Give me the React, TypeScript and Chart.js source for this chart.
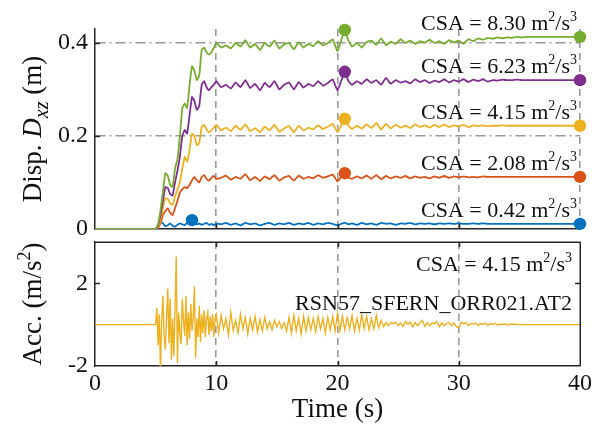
import React, { useEffect, useRef } from "react";
import { Chart, registerables } from "chart.js";
Chart.register(...registerables);

// ---------- DATA ----------
const TIME_D = [0, 5, 5.2, 5.4, 5.6, 5.8, 6, 6.2, 6.4, 6.6, 6.8, 7, 7.2, 7.4, 7.6, 7.8, 8, 8.2, 8.4, 8.6, 8.8, 9, 9.2, 9.4, 9.6, 9.8, 10,
  10.4, 10.8, 11.2, 11.6, 12, 12.4, 12.8, 13.2, 13.6, 14, 14.4, 14.8, 15.2, 15.6, 16, 16.4, 16.8, 17.2, 17.6, 18, 18.4, 18.8, 19.2, 19.6, 20,
  20.3, 20.6, 20.9,
  21.2, 21.6, 22, 22.4, 22.8, 23.2, 23.6, 24, 24.4, 24.8, 25.2, 25.6, 26, 26.4, 26.8, 27.2, 27.6, 28, 28.4, 28.8, 29.2, 29.6, 30, 30.4, 30.8, 31.2, 31.6, 32, 32.4, 32.8, 33.2, 33.6, 34, 34.4, 34.8, 35.2, 35.6, 36,
  40];

const DISP_GREEN = [0,
  0, 0.01, 0.04, 0.08, 0.12, 0.115, 0.095, 0.09, 0.13, 0.15, 0.2, 0.26, 0.27, 0.26, 0.31, 0.35, 0.34, 0.32, 0.33, 0.385, 0.39, 0.38, 0.375, 0.38, 0.39, 0.40,
  0.39, 0.395, 0.388, 0.40, 0.392, 0.406, 0.39, 0.398, 0.385, 0.40, 0.392, 0.405, 0.388, 0.397, 0.40, 0.386, 0.402, 0.39, 0.398, 0.393, 0.404, 0.395, 0.40, 0.408, 0.382,
  0.405, 0.428, 0.405,
  0.392, 0.40, 0.39, 0.402, 0.405, 0.396, 0.41, 0.395, 0.403, 0.398, 0.408, 0.40, 0.405, 0.398, 0.404, 0.401, 0.407, 0.40, 0.404, 0.398, 0.406, 0.401, 0.405, 0.398, 0.408, 0.404, 0.41, 0.407, 0.411, 0.409, 0.412, 0.41, 0.412, 0.411, 0.413, 0.412, 0.413, 0.413,
  0.413];

const DISP_PURPLE = [0,
  0, 0.008, 0.03, 0.06, 0.09, 0.088, 0.075, 0.072, 0.1, 0.125, 0.155, 0.2, 0.213, 0.205, 0.245, 0.284, 0.275, 0.256, 0.265, 0.31, 0.318, 0.305, 0.298, 0.305, 0.31, 0.318,
  0.305, 0.31, 0.302, 0.315, 0.305, 0.32, 0.303, 0.312, 0.298, 0.314, 0.305, 0.318, 0.3, 0.31, 0.315, 0.3, 0.316, 0.304, 0.312, 0.307, 0.318, 0.308, 0.314, 0.322, 0.298,
  0.318, 0.338, 0.318,
  0.31, 0.318, 0.312, 0.322, 0.314, 0.32, 0.31, 0.325, 0.312, 0.32, 0.315, 0.318, 0.313, 0.322, 0.316, 0.32, 0.314, 0.319, 0.316, 0.322, 0.315, 0.32, 0.317, 0.322, 0.316, 0.321, 0.318, 0.322, 0.317, 0.32, 0.319, 0.321, 0.32, 0.32, 0.321, 0.32, 0.32, 0.32,
  0.32];

const DISP_YELLOW = [0,
  0, 0.005, 0.02, 0.045, 0.066, 0.065, 0.055, 0.052, 0.07, 0.085, 0.1, 0.13, 0.155, 0.145, 0.17, 0.205, 0.2, 0.18, 0.185, 0.22, 0.224, 0.214, 0.208, 0.212, 0.218, 0.224,
  0.212, 0.218, 0.21, 0.222, 0.213, 0.225, 0.21, 0.217, 0.208, 0.22, 0.212, 0.224, 0.209, 0.216, 0.221, 0.208, 0.222, 0.212, 0.218, 0.214, 0.223, 0.215, 0.22, 0.226, 0.208,
  0.222, 0.237, 0.222,
  0.215, 0.222, 0.216, 0.225, 0.217, 0.228, 0.214, 0.226, 0.216, 0.224, 0.218, 0.222, 0.217, 0.225, 0.219, 0.223, 0.218, 0.224, 0.219, 0.225, 0.219, 0.223, 0.22, 0.224, 0.219, 0.223, 0.221, 0.223, 0.221, 0.222, 0.222, 0.223, 0.222, 0.222, 0.222, 0.222, 0.222, 0.222,
  0.222];

const DISP_ORANGE = [0,
  0, 0.003, 0.012, 0.03, 0.038, 0.045, 0.035, 0.03, 0.045, 0.06, 0.078, 0.085, 0.09, 0.088, 0.095, 0.105, 0.112, 0.105, 0.1, 0.112, 0.116, 0.108, 0.104, 0.11, 0.114, 0.108,
  0.11, 0.115, 0.106, 0.112, 0.108, 0.118, 0.105, 0.112, 0.103, 0.113, 0.107, 0.116, 0.104, 0.111, 0.114, 0.104, 0.115, 0.108, 0.112, 0.109, 0.116, 0.11, 0.113, 0.117, 0.102,
  0.112, 0.12, 0.11,
  0.108, 0.113, 0.109, 0.115, 0.108, 0.116, 0.107, 0.114, 0.109, 0.113, 0.11, 0.114, 0.109, 0.113, 0.11, 0.112, 0.109, 0.113, 0.11, 0.114, 0.11, 0.113, 0.111, 0.113, 0.111, 0.112, 0.111, 0.113, 0.112, 0.112, 0.112, 0.112, 0.112, 0.112, 0.112, 0.112, 0.112, 0.112,
  0.112];

const DISP_BLUE = [0,
  0, 0.008, 0.015, 0.012, 0.006, 0.008, 0.012, 0.007, 0.005, 0.009, 0.012, 0.01, 0.008, 0.013, 0.016, 0.019, 0.014, 0.01, 0.012, 0.009, 0.011, 0.013, 0.009, 0.011, 0.008, 0.012,
  0.01, 0.013, 0.009, 0.012, 0.008, 0.013, 0.01, 0.012, 0.008, 0.011, 0.013, 0.009, 0.012, 0.01, 0.013, 0.009, 0.012, 0.01, 0.013, 0.009, 0.012, 0.01, 0.013, 0.011, 0.008,
  0.011, 0.013, 0.01,
  0.012, 0.009, 0.013, 0.01, 0.012, 0.009, 0.013, 0.011, 0.012, 0.009, 0.012, 0.011, 0.013, 0.01, 0.012, 0.011, 0.012, 0.01, 0.012, 0.011, 0.012, 0.011, 0.012, 0.011, 0.011, 0.012, 0.011, 0.012, 0.011, 0.011, 0.011, 0.011, 0.011, 0.011, 0.011, 0.011, 0.011, 0.011,
  0.011];

// peak markers (time, value) per series
const PEAK_T = [20.6, 20.6, 20.6, 20.6, 8.0];
const PEAK_D = [0.428, 0.338, 0.237, 0.12, 0.019];
const CSA_VALUES = ["8.30", "6.23", "4.15", "2.08", "0.42"];
const SERIES_COLORS = ["#77AC30", "#7E2F8E", "#EDB120", "#D95319", "#0072BD"];
const SERIES_VALUES = [DISP_GREEN, DISP_PURPLE, DISP_YELLOW, DISP_ORANGE, DISP_BLUE];

const TIME_ACC = [0,
  5, 5.1, 5.2, 5.3, 5.4, 5.5, 5.6, 5.7, 5.8, 5.9,
  6, 6.1, 6.2, 6.3, 6.4, 6.5, 6.6, 6.7, 6.8, 6.9,
  7, 7.1, 7.2, 7.3, 7.4, 7.5, 7.6, 7.7, 7.8, 7.9,
  8, 8.1, 8.2, 8.3, 8.4, 8.5, 8.6, 8.7, 8.8, 8.9,
  9, 9.1, 9.2, 9.3, 9.4, 9.5, 9.6, 9.7, 9.8, 9.9,
  10,
  10.2, 10.4, 10.6, 10.8, 11, 11.2, 11.4, 11.6, 11.8, 12,
  12.2, 12.4, 12.6, 12.8, 13, 13.2, 13.4, 13.6, 13.8, 14,
  14.2, 14.4, 14.6, 14.8, 15, 15.2, 15.4, 15.6, 15.8, 16,
  16.2, 16.4, 16.6, 16.8, 17, 17.2, 17.4, 17.6, 17.8, 18,
  18.2, 18.4, 18.6, 18.8, 19, 19.2, 19.4, 19.6, 19.8, 20,
  20.2, 20.4, 20.6, 20.8, 21, 21.2, 21.4, 21.6, 21.8, 22,
  22.2, 22.4, 22.6, 22.8, 23, 23.2, 23.4, 23.6, 23.8, 24,
  24.2, 24.4, 24.6, 24.8, 25, 25.2, 25.4, 25.6, 25.8, 26,
  26.2, 26.4, 26.6, 26.8, 27, 27.2, 27.4, 27.6, 27.8, 28,
  28.2, 28.4, 28.6, 28.8, 29, 29.2, 29.4, 29.6, 29.8, 30,
  30.2, 30.4, 30.6, 30.8, 31, 31.2, 31.4, 31.6, 31.8, 32,
  32.2, 32.4, 32.6, 32.8, 33, 33.2, 33.4, 33.6, 33.8, 34,
  34.2, 34.4, 34.6, 34.8, 35, 35.2, 35.4, 35.6, 35.8, 36,
  40];

const ACC = [0,
  0, 0.8, -1.0, 0.5, -2.2, 0.2, 1.4, -0.6, -1.2, 0.4,
  1.75, -0.9, 1.25, -1.7, 0.3, -1.5, 0.8, 3.3, -1.85, 0.6,
  -0.4, -0.95, 1.25, 0.2, -0.55, 1.4, -1.0, 0.6, -0.7, 1.0,
  -0.3, 0.4, 1.85, -1.6, 0.3, -0.6, 0.9, -0.85, 0.5, -0.4,
  0.7, -0.6, 0.3, 0.6, -0.5, 0.4, -0.3, 0.5, -0.6, 0.3,
  0.5,
  -0.4, 0.45, -0.2, 0.3, -0.5, 0.6, -0.3, 0.2, -0.4, 0.5,
  -0.2, 0.35, -0.45, 0.3, -0.25, 0.4, -0.35, 0.25, -0.3, 0.35,
  -0.2, 0.15, -0.25, 0.2, -0.1, 0.15, -0.2, 0.1, -0.3, 0.35,
  -0.4, 0.45, -0.3, 0.3, -0.45, 0.4, -0.3, 0.35, -0.25, 0.3,
  -0.35, 0.4, -0.2, 0.3, -0.4, 0.35, -0.25, 0.4, -0.3, 0.55,
  -0.3, 0.4, -0.25, 0.35, -0.2, 0.45, -0.3, 0.3, -0.25, 0.5,
  -0.2, 0.4, -0.25, 0.3, -0.2, 0.45, -0.15, 0.2, -0.1, 0.1,
  -0.05, 0.1, 0.05, 0.12, -0.05, 0.08, -0.08, 0.15, 0.02, 0.12,
  -0.1, 0.1, -0.05, 0.08, 0.2, -0.08, 0.1, -0.05, 0.08, 0.05,
  0.15, -0.1, 0.08, -0.05, 0.06, 0.1, -0.05, 0.08, -0.1, -0.15,
  0.12, 0.05, 0.1, -0.05, 0.06, 0.02, 0.08, -0.04, 0.05, 0.02,
  0.07, -0.03, 0.04, 0.02, 0.06, -0.02, 0.03, 0.01, 0.04, -0.02,
  0.03, 0.01, 0.03, 0, 0.01, 0, 0, 0, 0, 0,
  0];

const ACC_TICKS = [-2, 2];
const ACC_CSA = "4.15";
const RECORD_NAME = "RSN57_SFERN_ORR021.AT2";

// ---------- STYLE ----------
const FONT = '"Liberation Serif", "Times New Roman", serif';
const AXIS = "#262626";
const GRID = "#999999";
const TEXT = "#111111";
const ACC_COLOR = "#EDB120";

function zip(xs: number[], ys: number[]) {
  const n = Math.min(xs.length, ys.length);
  const out: { x: number; y: number }[] = [];
  for (let i = 0; i < n; i++) out.push({ x: xs[i], y: ys[i] });
  return out;
}

type Seg = { t: string; size: number; style?: string; dy?: number };
function segFont(s: Seg) {
  return `${s.style || "normal"} ${s.size}px ${FONT}`;
}
function segWidth(ctx: CanvasRenderingContext2D, segs: Seg[]) {
  let w = 0;
  for (const s of segs) {
    ctx.font = segFont(s);
    w += ctx.measureText(s.t).width;
  }
  return w;
}
function drawSegs(ctx: CanvasRenderingContext2D, segs: Seg[], x: number, y: number) {
  let cx = x;
  ctx.textBaseline = "alphabetic";
  ctx.textAlign = "left";
  for (const s of segs) {
    ctx.font = segFont(s);
    ctx.fillText(s.t, cx, y + (s.dy || 0));
    cx += ctx.measureText(s.t).width;
  }
}
function drawRight(ctx: CanvasRenderingContext2D, segs: Seg[], right: number, y: number) {
  drawSegs(ctx, segs, right - segWidth(ctx, segs), y);
}
function drawRotated(ctx: CanvasRenderingContext2D, segs: Seg[], cx: number, cy: number) {
  ctx.save();
  ctx.translate(cx, cy);
  ctx.rotate(-Math.PI / 2);
  const w = segWidth(ctx, segs);
  drawSegs(ctx, segs, -w / 2, 9);
  ctx.restore();
}
function csaSegs(v: string): Seg[] {
  return [
    { t: `CSA = ${v} m`, size: 22 },
    { t: "2", size: 14, dy: -9 },
    { t: "/s", size: 22 },
    { t: "3", size: 14, dy: -9 },
  ];
}
function line(ctx: CanvasRenderingContext2D, x1: number, y1: number, x2: number, y2: number) {
  ctx.beginPath();
  ctx.moveTo(x1, y1);
  ctx.lineTo(x2, y2);
  ctx.stroke();
}

const TICK_LEN = 5;

const topDecor = {
  id: "topDecor",
  afterDraw(chart: any) {
    const { ctx, chartArea: ca, scales } = chart;
    const x = scales.x, y = scales.y;
    ctx.save();
    ctx.strokeStyle = AXIS;
    ctx.lineWidth = 1.5;
    y.ticks.forEach((t: any) => {
      if (t.value === 0) return;
      const py = Math.round(y.getPixelForValue(t.value)) + 0.5;
      line(ctx, ca.left, py, ca.left + TICK_LEN, py);
    });
    x.ticks.forEach((t: any) => {
      if (t.value <= 0 || t.value >= 40) return;
      const px = Math.round(x.getPixelForValue(t.value)) + 0.5;
      line(ctx, px, ca.bottom, px, ca.bottom - TICK_LEN);
    });
    ctx.fillStyle = TEXT;
    SERIES_VALUES.forEach((vals, i) => {
      const end = vals[vals.length - 1];
      const by = y.getPixelForValue(end) - 7;
      drawRight(ctx, csaSegs(CSA_VALUES[i]), ca.right - 3, by);
    });
    drawRotated(
      ctx,
      [
        { t: "Disp. ", size: 27 },
        { t: "D", size: 27, style: "italic" },
        { t: "xz", size: 20, style: "italic", dy: 7 },
        { t: " (m)", size: 27 },
      ],
      32,
      (ca.top + ca.bottom) / 2
    );
    ctx.restore();
  },
};

const botDecor = {
  id: "botDecor",
  afterDraw(chart: any) {
    const { ctx, chartArea: ca, scales } = chart;
    const x = scales.x, y = scales.y;
    ctx.save();
    ctx.strokeStyle = AXIS;
    ctx.lineWidth = 1.5;
    // box top & right
    line(ctx, ca.left, ca.top + 0.25, ca.right + 0.75, ca.top + 0.25);
    line(ctx, ca.right + 0.25, ca.top, ca.right + 0.25, ca.bottom);
    y.ticks.forEach((t: any) => {
      const py = Math.round(y.getPixelForValue(t.value)) + 0.5;
      if (py >= ca.bottom - 1) return;
      line(ctx, ca.left, py, ca.left + TICK_LEN, py);
      line(ctx, ca.right, py, ca.right - TICK_LEN, py);
    });
    x.ticks.forEach((t: any) => {
      if (t.value <= 0 || t.value >= 40) return;
      const px = Math.round(x.getPixelForValue(t.value)) + 0.5;
      line(ctx, px, ca.bottom, px, ca.bottom - TICK_LEN);
      line(ctx, px, ca.top, px, ca.top + TICK_LEN);
    });
    ctx.fillStyle = TEXT;
    drawRight(ctx, csaSegs(ACC_CSA), ca.right - 8, ca.top + 29);
    ctx.font = `22px ${FONT}`;
    ctx.textAlign = "right";
    ctx.textBaseline = "alphabetic";
    ctx.fillText(RECORD_NAME, ca.right - 8, ca.top + 68);
    drawRotated(
      ctx,
      [
        { t: "Acc. (m/s", size: 27 },
        { t: "2", size: 18, dy: -11 },
        { t: ")", size: 27 },
      ],
      32,
      (ca.top + ca.bottom) / 2
    );
    ctx.restore();
  },
};

function topConfig(): any {
  const datasets: any[] = [];
  SERIES_VALUES.forEach((vals, i) => {
    datasets.push({
      data: [
        { x: PEAK_T[i], y: PEAK_D[i] },
        { x: TIME_D[TIME_D.length - 1], y: vals[vals.length - 1] },
      ],
      showLine: false,
      pointRadius: 6.2,
      pointBackgroundColor: SERIES_COLORS[i],
      pointBorderWidth: 0,
      clip: false,
    });
  });
  SERIES_VALUES.forEach((vals, i) => {
    datasets.push({
      data: zip(TIME_D, vals),
      borderColor: SERIES_COLORS[i],
      borderWidth: 1.8,
      pointRadius: 0,
      tension: 0.1,
      fill: false,
    });
  });
  return {
    type: "line",
    data: { datasets },
    plugins: [topDecor],
    options: {
      animation: false,
      responsive: false,
      maintainAspectRatio: false,
      layout: { padding: { top: 29, right: 21, bottom: 0, left: 0 } },
      plugins: { legend: { display: false }, tooltip: { enabled: false } },
      scales: {
        x: {
          type: "linear",
          min: 0,
          max: 40,
          ticks: { display: false, stepSize: 10 },
          grid: {
            color: (c: any) => (c.tick && c.tick.value > 0 ? GRID : "rgba(0,0,0,0)"),
            lineWidth: 1.6,
            drawTicks: false,
          },
          border: { display: true, color: AXIS, width: 1.5, dash: [7, 5] },
          afterFit: (s: any) => {
            s.height = 23;
          },
        },
        y: {
          type: "linear",
          min: 0,
          max: 0.43,
          ticks: {
            stepSize: 0.2,
            includeBounds: false,
            color: TEXT,
            padding: 7,
            font: { family: FONT, size: 24 },
          },
          grid: {
            color: (c: any) => (c.tick && c.tick.value > 0 ? GRID : "rgba(0,0,0,0)"),
            lineWidth: 1.6,
            drawTicks: false,
          },
          border: { display: true, color: AXIS, width: 1.5, dash: [10, 4, 2, 4] },
          afterFit: (s: any) => {
            s.width = 95;
          },
        },
      },
    },
  };
}

function botConfig(): any {
  return {
    type: "line",
    data: {
      datasets: [
        {
          data: zip(TIME_ACC, ACC),
          borderColor: ACC_COLOR,
          borderWidth: 1.4,
          pointRadius: 0,
          tension: 0,
          fill: false,
        },
      ],
    },
    plugins: [botDecor],
    options: {
      animation: false,
      responsive: false,
      maintainAspectRatio: false,
      layout: { padding: { top: 6, right: 21, bottom: 0, left: 0 } },
      plugins: { legend: { display: false }, tooltip: { enabled: false } },
      scales: {
        x: {
          type: "linear",
          min: 0,
          max: 40,
          ticks: { stepSize: 10, color: TEXT, padding: 3, font: { family: FONT, size: 24 }, maxRotation: 0 },
          grid: {
            color: (c: any) => (c.tick && c.tick.value > 0 && c.tick.value < 40 ? GRID : "rgba(0,0,0,0)"),
            lineWidth: 1.6,
            drawTicks: false,
          },
          border: { display: true, color: AXIS, width: 1.5, dash: [7, 5] },
          title: {
            display: true,
            text: "Time (s)",
            color: TEXT,
            font: { family: FONT, size: 27 },
            padding: { top: 0, bottom: 4 },
          },
          afterFit: (s: any) => {
            s.height = 64;
          },
        },
        y: {
          type: "linear",
          min: -2,
          max: 4,
          afterBuildTicks: (s: any) => {
            s.ticks = ACC_TICKS.map((v) => ({ value: v }));
          },
          ticks: {
            color: TEXT,
            padding: 7,
            font: { family: FONT, size: 24 },
          },
          grid: { display: false, drawTicks: false },
          border: { display: true, color: AXIS, width: 1.5 },
          afterFit: (s: any) => {
            s.width = 95;
            s.paddingTop = 0;
            s.paddingBottom = 0;
          },
        },
      },
    },
  };
}

export default function App() {
  const topRef = useRef<HTMLCanvasElement>(null);
  const botRef = useRef<HTMLCanvasElement>(null);
  useEffect(() => {
    const top = new Chart(topRef.current as HTMLCanvasElement, topConfig());
    const bot = new Chart(botRef.current as HTMLCanvasElement, botConfig());
    return () => {
      top.destroy();
      bot.destroy();
    };
  }, []);
  return (
    <div style={{ position: "absolute", left: 0, top: 0, width: 601, height: 430, background: "#fff" }}>
      <canvas
        ref={topRef}
        width={601}
        height={252}
        style={{ position: "absolute", left: 0, top: 0, width: 601, height: 252 }}
      />
      <canvas
        ref={botRef}
        width={601}
        height={194}
        style={{ position: "absolute", left: 0, top: 236, width: 601, height: 194 }}
      />
    </div>
  );
}
